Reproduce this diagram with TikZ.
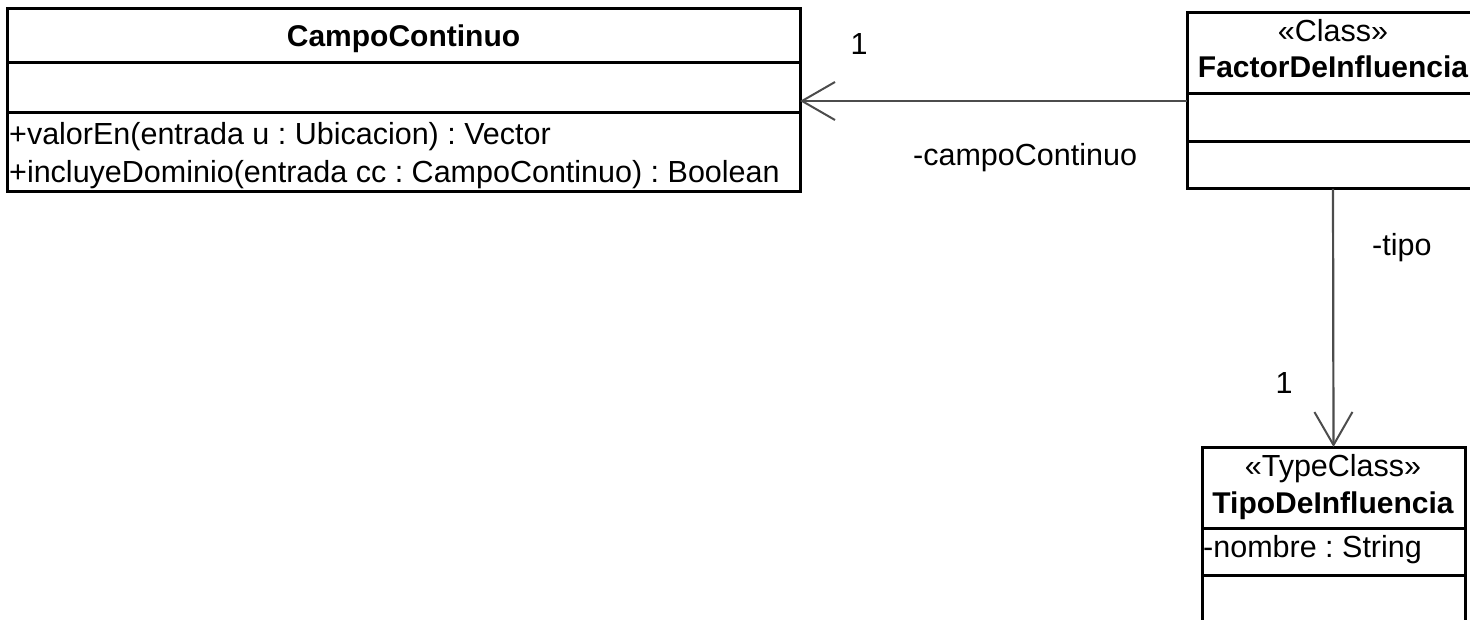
\documentclass[tikz,border=0pt]{standalone}
\usepackage{fontspec}
\setmainfont{Liberation Sans}
\usetikzlibrary{arrows.meta}
\frenchspacing
\begin{document}
\begin{tikzpicture}[x=1pt,y=-1pt,
  umlbox/.style={draw=black, line width=3pt, anchor=north west, inner sep=0pt, outer sep=0pt},
  divider/.style={line width=3pt},
  assoc/.style={draw=black!70, line width=2.2pt, -{Straight Barb[length=33pt,width=38pt,line width=2pt]}},
  lbl/.style={font=\fontsize{30.5}{36}\selectfont, inner sep=0pt, anchor=base},
  bold/.style={lbl, font=\fontsize{30}{36}\selectfont\bfseries},
]
\useasboundingbox (0,0) rectangle (1470,620);
\clip (0,0) rectangle (1470,620);

% class boxes
\node[umlbox, minimum width=793pt, minimum height=183pt] (campo) at (7,9) {};
\draw[divider] (campo.west |- 0,63) -- (campo.east |- 0,63);
\draw[divider] (campo.west |- 0,113) -- (campo.east |- 0,113);

\node[umlbox, minimum width=292pt, minimum height=176pt] (factor) at (1187,13) {};
\draw[divider] (factor.west |- 0,94) -- (factor.east |- 0,94);
\draw[divider] (factor.west |- 0,142) -- (factor.east |- 0,142);

\node[umlbox, minimum width=263pt, minimum height=200pt] (tipo) at (1202,447) {};
\draw[divider] (tipo.west |- 0,528) -- (tipo.east |- 0,528);
\draw[divider] (tipo.west |- 0,575) -- (tipo.east |- 0,575);

% compartment texts
\node[bold] (campotitle) at (403.5,47) {CampoContinuo};
\node[lbl, anchor=base west] (m1) at (9,145) {+valorEn(entrada u : Ubicacion) : Vector};
\node[lbl, anchor=base west] (m2) at (9,183) {+incluyeDominio(entrada cc : CampoContinuo) : Boolean};

\node[lbl] (factorst) at (1333,42) {«Class»};
\node[bold] (factortitle) at (1333,78) {FactorDeInfluencia};

\node[lbl] (tipost) at (1333,476) {«TypeClass»};
\node[bold] (tipotitle) at (1333,513) {TipoDeInfluencia};
\node[lbl, anchor=base west] (attr) at (1203,557) {-nombre : String};

% associations
\draw[assoc] (factor.west) -- (factor.west -| campo.east);
\draw[assoc] (factor.south) -- (tipo.north);

\node[lbl] (mult1) at (859,55) {1};
\node[lbl, anchor=base west] (role1) at (913,166) {-campoContinuo};
\node[lbl, anchor=base west] (role2) at (1372,256) {-tipo};
\node[lbl] (mult2) at (1284,393) {1};
\end{tikzpicture}
\end{document}
